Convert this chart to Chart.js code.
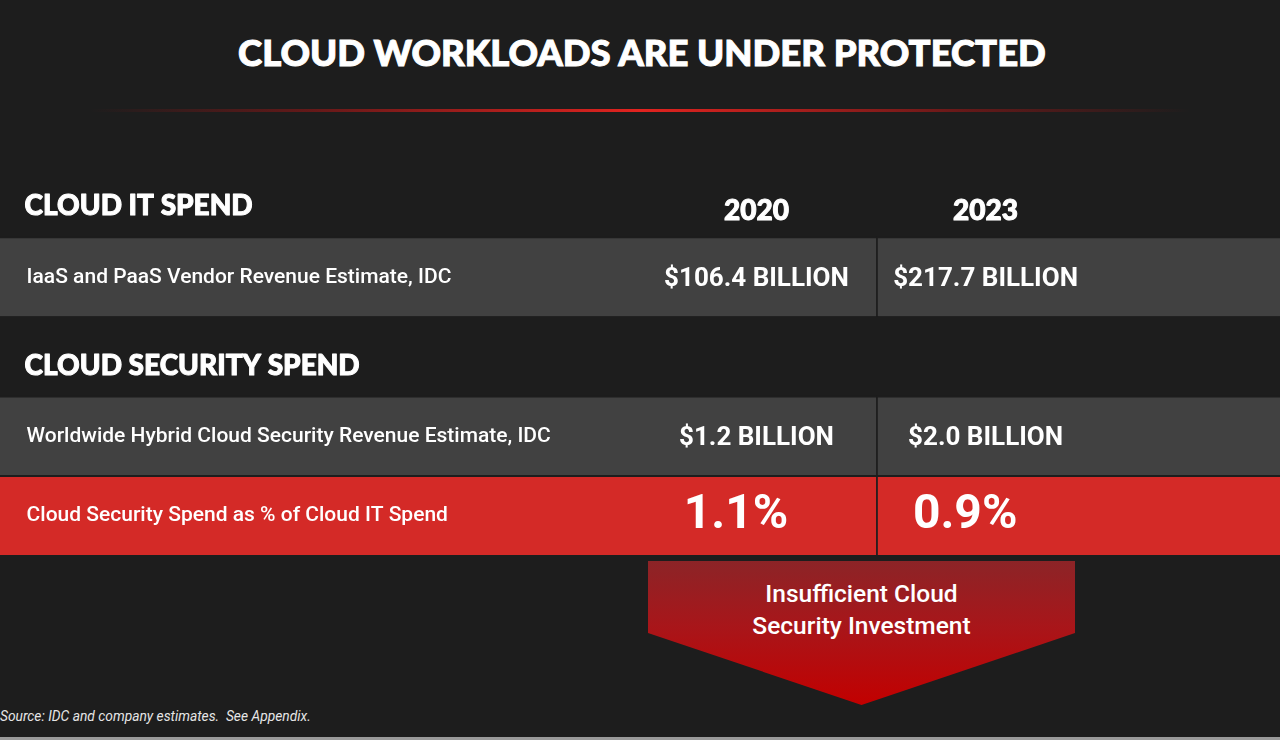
<!DOCTYPE html>
<html>
<head>
<meta charset="utf-8">
<script src="https://cdn.jsdelivr.net/npm/chart.js@4.4.1/dist/chart.umd.min.js"></script>
<style>
    html, body {
        margin: 0;
        padding: 0;
        width: 1280px;
        height: 740px;
        overflow: hidden;
        background: #1d1d1d;
        font-family: Roboto, "Noto Sans", sans-serif;
        color: #fff;
    }
    .title {
        position: absolute;
        left: 0;
        top: 29px;
        width: 1284px;
        margin: 0;
        text-align: center;
        font: 900 36.5px Lato, sans-serif;
        line-height: 46px;
        -webkit-text-stroke: 1px #fff;
    }
    .glow {
        position: absolute;
        left: 90px;
        top: 109px;
        width: 1100px;
        height: 3px;
        background: linear-gradient(90deg, rgba(200, 20, 20, 0) 0%, rgba(170, 20, 20, 0.5) 20%, #e2231f 50%, rgba(170, 20, 20, 0.5) 80%, rgba(200, 20, 20, 0) 100%);
    }
    .table-wrap {
        position: absolute;
        left: 0;
        top: 156.6px;
        width: 1280px;
        height: 398px;
    }
    .arrow {
        position: absolute;
        left: 648px;
        top: 561px;
        width: 427px;
        height: 144px;
        clip-path: polygon(0 0, 100% 0, 100% 50%, 50% 100%, 0 50%);
        background: linear-gradient(180deg, #8c2427 0%, #a8161a 45%, #c20000 100%);
        text-align: center;
        font: 500 24.5px Roboto, sans-serif;
        line-height: 32px;
        padding-top: 17px;
        box-sizing: border-box;
    }
    .source {
        position: absolute;
        left: 0;
        top: 708px;
        font: italic 13.8px Roboto, sans-serif;
        color: #e6e6e6;
        white-space: pre;
    }
    .bottom-line {
        position: absolute;
        left: 0;
        top: 737px;
        width: 1280px;
        height: 3px;
        background: #9a9a9a;
    }
</style>
</head>
<body>
<h1 class="title">CLOUD WORKLOADS ARE UNDER PROTECTED</h1>
<div class="glow"></div>
<div class="table-wrap"><canvas id="spend-table"></canvas></div>
<div class="arrow">Insufficient Cloud<br>Security Investment</div>
<div class="source">Source: IDC and company estimates.  See Appendix.</div>
<div class="bottom-line"></div>

<script>
// Table data
const rowLabels = [
    'CLOUD IT SPEND',
    'IaaS and PaaS Vendor Revenue Estimate, IDC',
    'CLOUD SECURITY SPEND',
    'Worldwide Hybrid Cloud Security Revenue Estimate, IDC',
    'Cloud Security Spend as % of Cloud IT Spend'
];
const rowKinds = ['header', 'data', 'header', 'data', 'highlight'];
const years = ['2020', '2023'];
const values2020 = [null, 106.4, null, 1.2, 1.1];
const values2023 = [null, 217.7, null, 2.0, 0.9];
const valueUnits = [null, ' BILLION', null, ' BILLION', '%'];

// Layout, in percent of the table width
const SPLIT = 68.45;
const LABEL_X = 2;
const COL_CENTERS = [59.1, 77.0];
const PCT_CENTERS = [57.5, 75.4];

const ROW_COLORS = {
    header: 'rgba(0, 0, 0, 0)',
    data: '#414141',
    highlight: '#d42a27'
};

function formatValue(value, unit) {
    if (value === null) return '';
    if (unit === '%') return value.toFixed(1) + '%';
    return '$' + value.toFixed(1) + unit;
}

// Heavy text: fill plus a thin stroke of the same colour
function heavyText(ctx, text, x, y) {
    ctx.fillText(text, x, y);
    ctx.strokeText(text, x, y);
}

// Draws the row labels, year headers and cell values
const tableTextPlugin = {
    id: 'tableText',
    afterDatasetsDraw(chart) {
        const { ctx, scales } = chart;
        const x = scales.x;
        const y = scales.y;
        const bandH = chart.chartArea.height / rowLabels.length;

        ctx.save();
        ctx.fillStyle = '#ffffff';
        ctx.strokeStyle = '#ffffff';
        ctx.lineWidth = 1;
        ctx.lineJoin = 'round';
        ctx.textBaseline = 'middle';

        rowLabels.forEach((label, i) => {
            const cy = y.getPixelForValue(i);
            const kind = rowKinds[i];

            if (kind === 'header') {
                const hy = cy + bandH * 0.12;
                ctx.textAlign = 'left';
                ctx.font = '900 28px Lato, sans-serif';
                heavyText(ctx, label, x.getPixelForValue(LABEL_X) - 1, hy);

                if (i === 0) {
                    ctx.textAlign = 'center';
                    ctx.font = '900 28px Lato, sans-serif';
                    years.forEach((year, c) => {
                        heavyText(ctx, year, x.getPixelForValue(COL_CENTERS[c]), hy + 5);
                    });
                }
                return;
            }

            ctx.textAlign = 'left';
            ctx.font = '500 21px Roboto, sans-serif';
            ctx.fillText(label, x.getPixelForValue(LABEL_X) + 1, cy + 1);

            ctx.textAlign = 'center';
            if (kind === 'highlight') {
                ctx.font = 'bold 48px Roboto, sans-serif';
                ctx.fillText(formatValue(values2020[i], valueUnits[i]), x.getPixelForValue(PCT_CENTERS[0]), cy + 1);
                ctx.fillText(formatValue(values2023[i], valueUnits[i]), x.getPixelForValue(PCT_CENTERS[1]), cy + 1);
            } else {
                ctx.font = 'bold 26px Roboto, sans-serif';
                ctx.fillText(formatValue(values2020[i], valueUnits[i]), x.getPixelForValue(COL_CENTERS[0]), cy + 3);
                ctx.fillText(formatValue(values2023[i], valueUnits[i]), x.getPixelForValue(COL_CENTERS[1]), cy + 3);
            }
        });

        ctx.restore();
    }
};

const rowColors = rowKinds.map(kind => ROW_COLORS[kind]);

new Chart(document.getElementById('spend-table'), {
    type: 'bar',
    data: {
        labels: rowLabels,
        datasets: [
            {
                label: 'label and 2020',
                data: rowKinds.map(kind => kind === 'header' ? null : [0, SPLIT]),
                backgroundColor: rowColors,
                borderColor: '#1d1d1d',
                borderWidth: { top: 2, left: 0, right: 0, bottom: 0 },
                borderSkipped: false
            },
            {
                label: '2023',
                data: rowKinds.map(kind => kind === 'header' ? null : [SPLIT, 100]),
                backgroundColor: rowColors,
                borderColor: '#1d1d1d',
                borderWidth: { top: 2, left: 2, right: 0, bottom: 0 },
                borderSkipped: false
            }
        ]
    },
    options: {
        indexAxis: 'y',
        responsive: true,
        maintainAspectRatio: false,
        animation: false,
        events: [],
        grouped: false,
        barPercentage: 1,
        categoryPercentage: 1,
        layout: { padding: 0 },
        scales: {
            x: { type: 'linear', min: 0, max: 100, display: false },
            y: { display: false }
        },
        plugins: {
            legend: { display: false },
            tooltip: { enabled: false }
        }
    },
    plugins: [tableTextPlugin]
});
</script>
</body>
</html>
